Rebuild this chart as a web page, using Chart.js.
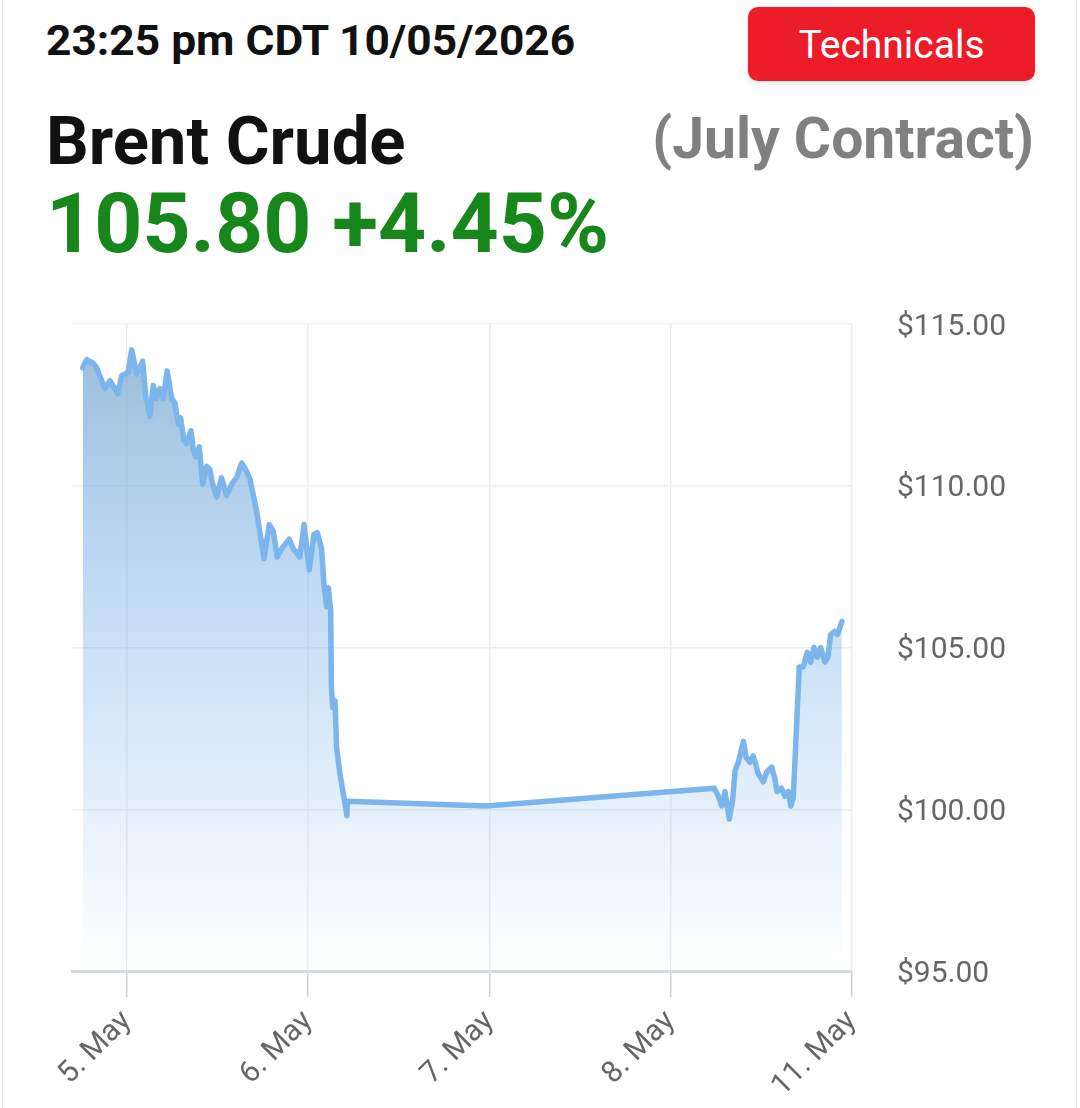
<!DOCTYPE html>
<html>
<head>
<meta charset="utf-8">
<script src="https://cdn.jsdelivr.net/npm/chart.js@4.4.1/dist/chart.umd.min.js"></script>
<style>
html, body { margin: 0; padding: 0; background: #fff; }
body { width: 1080px; height: 1108px; position: relative; overflow: hidden; font-family: Roboto, sans-serif; }
.frame { position: absolute; left: 2px; top: 0; width: 1075px; height: 1108px; border-left: 1px solid #ececec; border-right: 1px solid #ececec; box-sizing: border-box; }
.txt { position: absolute; line-height: 1; white-space: nowrap; }
#stamp { left: 46px; top: 19px; font-size: 43px; font-weight: 700; color: #111; transform: scaleX(1.03); transform-origin: left; }
#name { left: 46px; top: 108px; font-size: 67px; font-weight: 700; color: #111; }
#quote { left: 46px; top: 182px; font-size: 84px; font-weight: 700; color: #17871b; }
#contract { right: 46px; top: 110px; font-size: 57px; font-weight: 700; color: #808080; }
#tech { position: absolute; left: 748px; top: 7px; width: 287px; height: 74px; background: #ec1c29; border-radius: 10px;
        box-shadow: 0 2px 6px rgba(0,0,0,0.12); color: #fff; font-size: 39px; line-height: 76px; text-align: center; }
#wrap { position: absolute; left: 0; top: 261px; width: 1080px; height: 847px; }
</style>
</head>
<body>
<div class="frame"></div>
<div class="txt" id="stamp">23:25 pm CDT 10/05/2026</div>
<div id="tech">Technicals</div>
<div class="txt" id="name">Brent Crude</div>
<div class="txt" id="contract">(July Contract)</div>
<div class="txt" id="quote">105.80 +4.45%</div>
<div id="wrap"><canvas id="chart"></canvas></div>
<script>
// trading-day position (0 = 5 May, 1 = 6 May, 2 = 7 May, 3 = 8 May, 4 = 11 May)
const dayPos = [
  -0.244, -0.222, -0.188, -0.167, -0.121, -0.094, -0.050, -0.029, 0.007, 0.026,
  0.054, 0.087, 0.105, 0.127, 0.145, 0.164, 0.182, 0.200, 0.222, 0.247,
  0.265, 0.283, 0.296, 0.314, 0.329, 0.353, 0.366, 0.381, 0.399, 0.418,
  0.440, 0.458, 0.473, 0.495, 0.522, 0.550, 0.578, 0.605, 0.633, 0.660,
  0.679, 0.716, 0.756, 0.785, 0.807, 0.829, 0.854, 0.895, 0.918, 0.954,
  0.977, 1.006, 1.032, 1.050, 1.074, 1.087, 1.102, 1.111, 1.124, 1.128,
  1.135, 1.148, 1.157, 1.175, 1.193, 1.214, 1.216, 1.981, 3.240, 3.263,
  3.282, 3.299, 3.323, 3.342, 3.355, 3.373, 3.401, 3.416, 3.437, 3.455,
  3.483, 3.510, 3.530, 3.557, 3.574, 3.587, 3.611, 3.630, 3.648, 3.663,
  3.676, 3.709, 3.731, 3.753, 3.772, 3.790, 3.809, 3.827, 3.851, 3.867,
  3.882, 3.904, 3.919, 3.944
];
const prices = [
  113.65, 113.9, 113.8, 113.65, 113.0, 113.25, 112.85, 113.4, 113.5, 114.2,
  113.45, 113.85, 112.7, 112.15, 113.1, 112.7, 113.0, 112.7, 113.55, 112.7,
  112.55, 111.9, 112.1, 111.4, 111.3, 111.7, 111.1, 110.9, 111.2, 110.05,
  110.6, 110.5, 110.05, 109.65, 110.25, 109.7, 110.05, 110.25, 110.7, 110.45,
  110.2, 109.2, 107.75, 108.8, 108.6, 107.8, 108.05, 108.35, 108.05, 107.8,
  108.8, 107.4, 108.5, 108.55, 108.05, 106.95, 106.25, 106.85, 106.15, 103.8,
  103.15, 103.35, 101.9, 101.1, 100.5, 99.8, 100.25, 100.1, 100.65, 100.4,
  100.1, 100.55, 99.7, 100.3, 101.2, 101.45, 102.1, 101.6, 101.45, 101.65,
  101.1, 100.85, 101.15, 101.3, 100.95, 100.55, 100.65, 100.4, 100.55, 100.1,
  100.35, 104.4, 104.4, 104.85, 104.55, 105.0, 104.7, 105.0, 104.55, 104.7,
  105.4, 105.5, 105.4, 105.8
];
const dayLabels = ['5. May', '6. May', '7. May', '8. May', '11. May'];
const priceTicks = [95, 100, 105, 110, 115];

const points = dayPos.map((d, i) => ({x: d, y: prices[i]}));

const canvas = document.getElementById('chart');

function areaFill(context) {
    const {ctx, chartArea} = context.chart;
    if (!chartArea) return 'rgba(124,181,236,0.4)';
    const g = ctx.createLinearGradient(0, chartArea.top, 0, chartArea.bottom);
    g.addColorStop(0, 'rgba(124,170,205,0.8)');
    g.addColorStop(0.5, 'rgba(124,181,236,0.4)');
    g.addColorStop(1, 'rgba(124,181,236,0.0)');
    return g;
}

new Chart(canvas, {
    type: 'line',
    data: {
        datasets: [
            {
                label: 'Brent Crude',
                data: points,
                borderColor: '#7cb5ec',
                borderWidth: 5.5,
                backgroundColor: areaFill,
                fill: 'start',
                pointRadius: 0,
                tension: 0,
                borderJoinStyle: 'round',
                borderCapStyle: 'round'
            }
        ]
    },
    options: {
        responsive: true,
        maintainAspectRatio: false,
        animation: false,
        layout: {padding: {left: 72, top: 23, right: 0, bottom: 0}},
        plugins: {legend: {display: false}, tooltip: {enabled: false}},
        scales: {
            x: {
                type: 'linear',
                min: -0.303,
                max: 4,
                afterBuildTicks: scale => { scale.ticks = dayLabels.map((_, i) => ({value: i})); },
                afterFit: scale => { scale.height = 137; },
                grid: {color: '#ededed', lineWidth: 1.5, tickColor: '#ccd0d8', tickLength: 26, tickWidth: 1.5},
                border: {color: '#d3dbe8', width: 3},
                ticks: {
                    callback: v => dayLabels[v],
                    minRotation: 45,
                    maxRotation: 45,
                    padding: 7,
                    color: '#666',
                    font: {family: 'Roboto', size: 30}
                }
            },
            y: {
                position: 'right',
                min: 95,
                max: 115,
                afterBuildTicks: scale => { scale.ticks = priceTicks.map(v => ({value: v})); },
                afterFit: scale => { scale.width = 228; },
                grid: {color: '#efefef', lineWidth: 1.5, drawTicks: false},
                border: {display: false},
                ticks: {
                    callback: v => '$' + v.toFixed(2),
                    padding: 45,
                    labelOffset: 3,
                    color: '#666',
                    font: {family: 'Roboto', size: 30}
                }
            }
        }
    }
});
</script>
</body>
</html>
